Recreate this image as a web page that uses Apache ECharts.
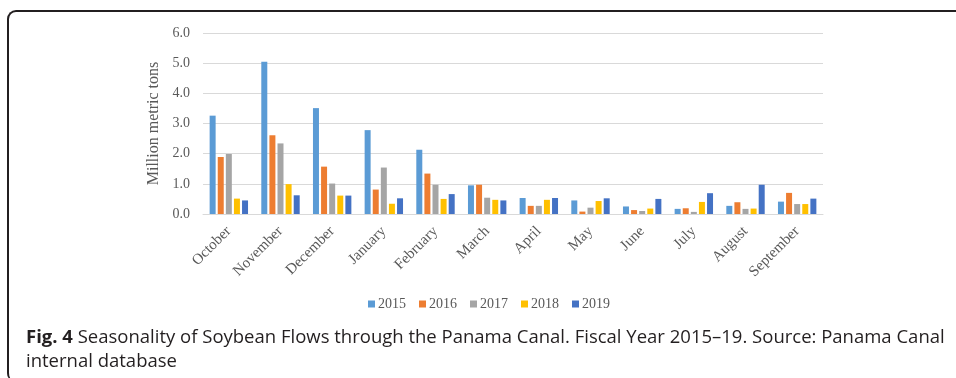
<!DOCTYPE html>
<html>
<head>
<meta charset="utf-8">
<script src="https://cdn.jsdelivr.net/npm/echarts@6/dist/echarts.min.js"></script>
<style>
  html, body { margin: 0; padding: 0; background: #fff; }
  #wrap { position: relative; width: 956px; height: 378px; overflow: hidden; }
  #frame {
    position: absolute; left: 7px; top: 10px; width: 980px; height: 372px;
    border-top: 2px solid #231f20; border-left: 2px solid #231f20;
    border-top-left-radius: 9px; border-bottom-left-radius: 9px;
    box-sizing: border-box;
  }
  #chart { position: absolute; left: 0; top: 0; width: 956px; height: 378px; }
</style>
</head>
<body>
<div id="wrap">
  <div id="frame"></div>
  <div id="chart"></div>
</div>
<script>
// Months of the fiscal year
const months = ['October', 'November', 'December', 'January', 'February', 'March',
  'April', 'May', 'June', 'July', 'August', 'September']

// Million metric tons per month, one array per fiscal year
const fy2015 = [3.26, 5.05, 3.51, 2.78, 2.13, 0.95, 0.53, 0.45, 0.25, 0.17, 0.27, 0.41]
const fy2016 = [1.89, 2.61, 1.57, 0.81, 1.34, 0.97, 0.27, 0.08, 0.13, 0.19, 0.39, 0.70]
const fy2017 = [1.99, 2.34, 1.01, 1.54, 0.97, 0.54, 0.27, 0.21, 0.10, 0.07, 0.17, 0.33]
const fy2018 = [0.51, 0.99, 0.61, 0.34, 0.50, 0.47, 0.47, 0.43, 0.18, 0.40, 0.18, 0.33]
const fy2019 = [0.45, 0.62, 0.61, 0.52, 0.66, 0.45, 0.53, 0.52, 0.50, 0.69, 0.97, 0.51]

const years = ['2015', '2016', '2017', '2018', '2019']
const yearValues = [fy2015, fy2016, fy2017, fy2018, fy2019]
const colors = ['#5b9bd5', '#ed7d31', '#a5a5a5', '#ffc000', '#4472c4']

const serif = '"Liberation Serif", "Times New Roman", serif'
const sans = '"Open Sans", "Noto Sans", sans-serif'
const labelColor = '#595959'

const chart = echarts.init(document.getElementById('chart'))

chart.setOption({
  animation: false,
  color: colors,
  grid: { left: 203, right: 133, top: 33, bottom: 164, containLabel: false },
  legend: {
    data: years,
    top: 292,
    left: 363,
    itemWidth: 7,
    itemHeight: 7,
    itemGap: 13,
    icon: 'rect',
    textStyle: { fontFamily: serif, fontSize: 14, color: labelColor, padding: [0, 0, 0, -2] },
  },
  xAxis: {
    type: 'category',
    data: months,
    axisLine: { show: true, lineStyle: { color: '#d9d9d9', width: 1 } },
    axisTick: { show: false },
    axisLabel: {
      interval: 0,
      rotate: 45,
      margin: 15,
      fontFamily: serif,
      fontSize: 15,
      color: labelColor,
    },
  },
  yAxis: {
    type: 'value',
    min: 0,
    max: 6,
    interval: 1,
    name: 'Million metric tons',
    nameLocation: 'middle',
    nameGap: 33,
    nameTextStyle: { fontFamily: serif, fontSize: 16, color: labelColor },
    axisLine: { show: false },
    axisTick: { show: false },
    axisLabel: {
      margin: 13,
      fontFamily: serif,
      fontSize: 14,
      color: labelColor,
      formatter: (v) => v.toFixed(1),
    },
    splitLine: { lineStyle: { color: '#d9d9d9', width: 1 } },
  },
  series: years.map((y, i) => ({
    name: y,
    type: 'bar',
    data: yearValues[i],
    barWidth: 6,
    barGap: '35%',
  })),
  graphic: [
    {
      type: 'text',
      left: 26,
      top: 328,
      style: {
        text: '{b|Fig. 4} Seasonality of Soybean Flows through the Panama Canal. Fiscal Year 2015\u201319. Source: Panama Canal',
        rich: {
          b: { fontFamily: sans, fontWeight: 'bold', fontSize: 18.5, fill: '#231f20' },
        },
        fontFamily: sans,
        fontSize: 18.5,
        fill: '#231f20',
      },
    },
    {
      type: 'text',
      left: 26,
      top: 352,
      style: {
        text: 'internal database',
        fontFamily: sans,
        fontSize: 18.5,
        fill: '#231f20',
      },
    },
  ],
})
</script>
</body>
</html>
